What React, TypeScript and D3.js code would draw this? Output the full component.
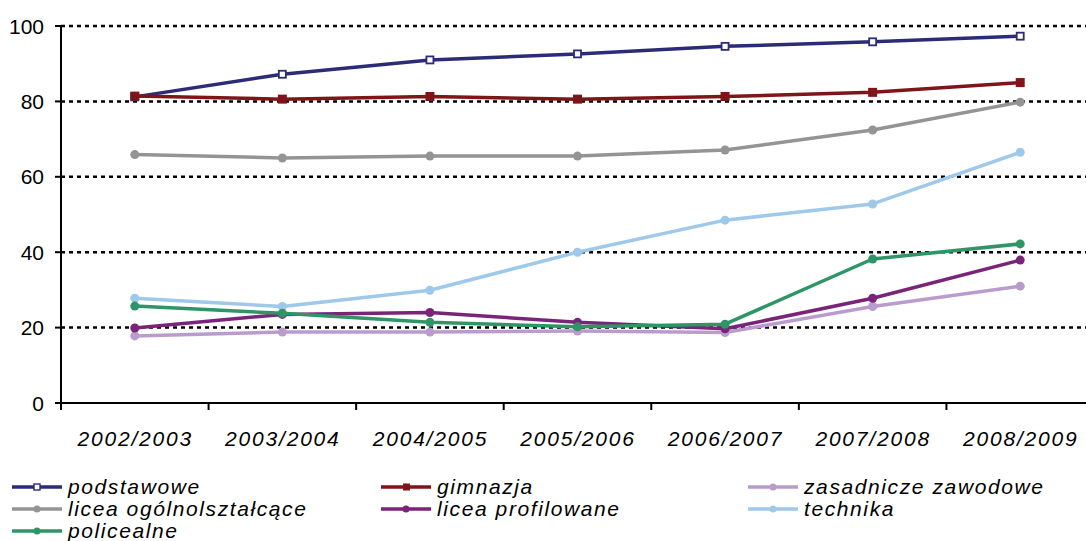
import React from "react";
import * as d3 from "d3";

const years = ["2002/2003", "2003/2004", "2004/2005", "2005/2006", "2006/2007", "2007/2008", "2008/2009"];
const podstawowe = [81.2, 87.2, 91.0, 92.6, 94.6, 95.8, 97.3];
const gimnazja = [81.4, 80.6, 81.3, 80.6, 81.3, 82.4, 85.0];
const zasadnicze = [17.8, 18.8, 18.8, 19.1, 18.7, 25.6, 31.0];
const liceaOgolne = [65.9, 65.0, 65.5, 65.5, 67.1, 72.4, 79.8];
const liceaProfilowane = [19.9, 23.5, 24.0, 21.4, 19.7, 27.8, 37.9];
const technika = [27.8, 25.6, 29.9, 40.0, 48.5, 52.8, 66.5];
const policealne = [25.7, 23.8, 21.4, 20.2, 20.9, 38.2, 42.2];
const yTicks = [0, 20, 40, 60, 80, 100];

const seriesNames = ["podstawowe", "gimnazja", "zasadnicze zawodowe", "licea ogólnolształcące", "licea profilowane", "technika", "policealne"];
const seriesValues = [podstawowe, gimnazja, zasadnicze, liceaOgolne, liceaProfilowane, technika, policealne];
const colors = ["#2b2b78", "#7f1518", "#b99ccd", "#949494", "#7a2479", "#9ec9eb", "#2e9567"];
const markers = ["openSquare", "square", "circle", "circle", "circle", "circle", "circle"];

const W = 1086;
const H = 541;
const left = 61;
const right = 1094;
const top = 26;
const bottom = 403;

export default function App() {
  const x = d3.scaleBand<string>().domain(years).range([left, right]);
  const y = d3.scaleLinear().domain([0, 100]).range([bottom, top]);
  const cx = (i: number) => (x(years[i]) as number) + x.bandwidth() / 2;
  const line = d3
    .line<number>()
    .x((_, i) => cx(i))
    .y((d) => y(d));
  const font = "'Liberation Sans', Arial, sans-serif";

  const legendPos = [
    [12, 487], [381, 487], [748, 487],
    [12, 509], [381, 509], [748, 509],
    [12, 531],
  ];

  const marker = (kind: string, color: string, px: number, py: number, key: string) => {
    if (kind === "openSquare")
      return <rect key={key} x={px - 3.5} y={py - 3.5} width={7} height={7} fill="#fff" stroke={color} strokeWidth={1.8} />;
    if (kind === "square")
      return <rect key={key} x={px - 4.5} y={py - 4.5} width={9} height={9} fill={color} />;
    return <circle key={key} cx={px} cy={py} r={4.5} fill={color} />;
  };

  return (
    <svg width={W} height={H} style={{ position: "absolute", left: 0, top: 0, background: "#fff" }} fontFamily={font}>
      {yTicks.filter((t) => t > 0).map((t) => (
        <line key={"g" + t} x1={left} x2={W} y1={y(t)} y2={y(t)} stroke="#000" strokeWidth={2.5} strokeDasharray="4,4" />
      ))}
      <line x1={left} x2={left} y1={top} y2={bottom} stroke="#000" strokeWidth={2} />
      <line x1={left} x2={W} y1={bottom} y2={bottom} stroke="#000" strokeWidth={2} />
      {yTicks.map((t) => (
        <g key={"y" + t}>
          <line x1={left - 6} x2={left} y1={y(t)} y2={y(t)} stroke="#000" strokeWidth={2} />
          <text x={44} y={y(t)} dy="0.36em" textAnchor="end" fontSize={21} fill="#000">{t}</text>
        </g>
      ))}
      {years.map((yr, i) => (
        <line key={"xt" + i} x1={x(yr) as number} x2={x(yr) as number} y1={bottom} y2={bottom + 7} stroke="#000" strokeWidth={2} />
      ))}
      {years.map((yr, i) => (
        <text key={"xl" + i} x={cx(i) + 0.5} y={446} textAnchor="middle" fontSize={21} letterSpacing={1.8} fontStyle="italic" fill="#000">{yr}</text>
      ))}
      {seriesValues.map((vals, s) => (
        <g key={"s" + s}>
          <path d={line(vals) as string} fill="none" stroke={colors[s]} strokeWidth={3.5} strokeLinejoin="round" />
          {vals.map((v, i) => marker(markers[s], colors[s], cx(i), y(v), "m" + s + "-" + i))}
        </g>
      ))}
      {seriesNames.map((name, s) => {
        const [lx, ly] = legendPos[s];
        return (
          <g key={"l" + s}>
            <line x1={lx} x2={lx + 50} y1={ly} y2={ly} stroke={colors[s]} strokeWidth={3.5} />
            {markers[s] === "openSquare" ? (
              <rect x={lx + 22} y={ly - 3} width={6} height={6} fill="#fff" stroke={colors[s]} strokeWidth={1.4} />
            ) : markers[s] === "square" ? (
              <rect x={lx + 22} y={ly - 3.5} width={7} height={7} fill={colors[s]} />
            ) : (
              <circle cx={lx + 25} cy={ly} r={3.5} fill={colors[s]} />
            )}
            <text x={lx + 56} y={ly} dy="0.35em" fontSize={21} letterSpacing={1.6} fontStyle="italic" fill="#000">{name}</text>
          </g>
        );
      })}
    </svg>
  );
}
